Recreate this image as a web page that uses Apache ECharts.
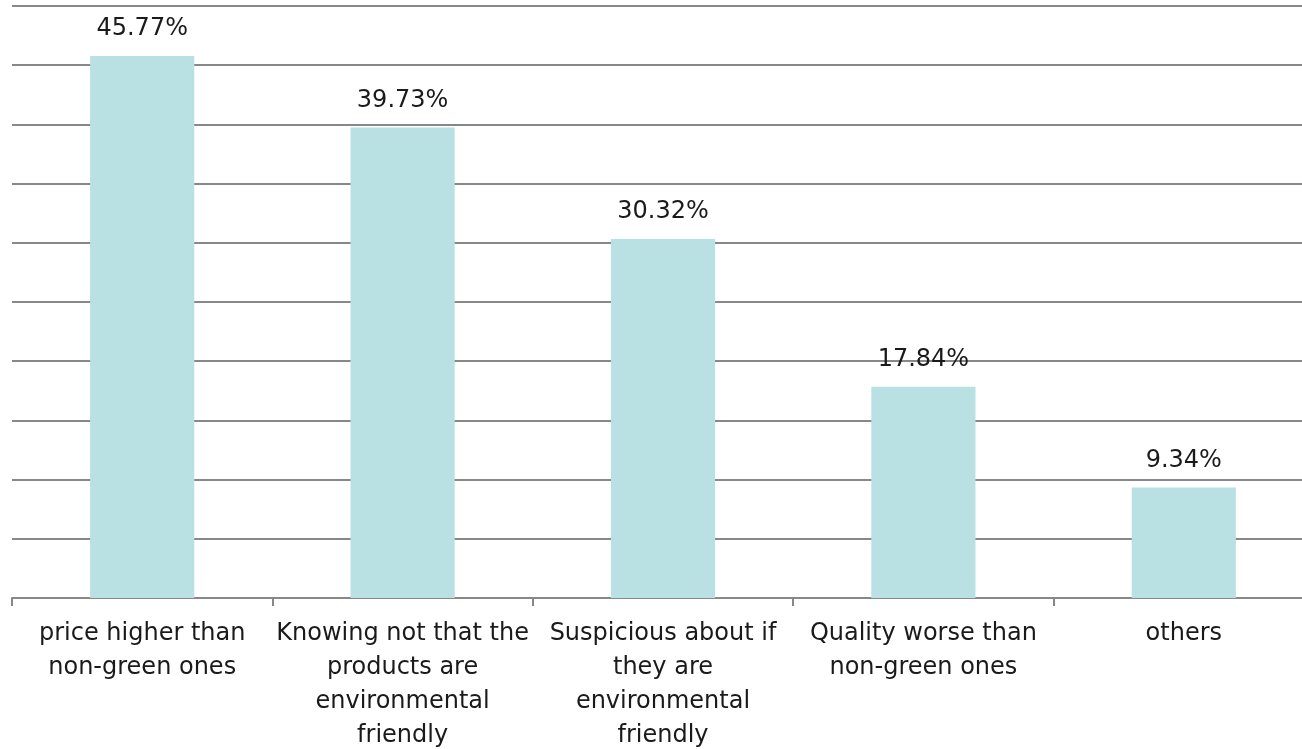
<!DOCTYPE html>
<html><head><meta charset="utf-8">
<script src="https://cdn.jsdelivr.net/npm/echarts@6/dist/echarts.min.js"></script>
<style>html,body{margin:0;padding:0;background:#fff;overflow:hidden;width:1302px;height:749px}#c{width:1314px;height:780px}</style>
</head><body><div id="c"></div>
<script>
const categories = [
  "price higher than\nnon-green ones",
  "Knowing not that the\nproducts are\nenvironmental\nfriendly",
  "Suspicious about if\nthey are\nenvironmental\nfriendly",
  "Quality worse than\nnon-green ones",
  "others"
];
const values = [45.77, 39.73, 30.32, 17.84, 9.34];

const chart = echarts.init(document.getElementById('c'));
const FONT = '"DejaVu Sans", sans-serif';
chart.setOption({
  animation: false,
  grid: { left: 12, right: 0, top: 6, bottom: 182, containLabel: false, outerBoundsMode: 'none' },
  xAxis: {
    type: 'category', data: categories,
    axisLine: { lineStyle: { color: '#888', width: 2 } },
    axisTick: { show: true, length: 8, lineStyle: { color: '#888', width: 2 } },
    axisLabel: { interval: 0, color: '#1a1a1a', fontSize: 24, fontFamily: FONT, lineHeight: 34, margin: 19 }
  },
  yAxis: {
    type: 'value', min: 0, max: 50, interval: 5,
    axisLabel: { show: false }, axisLine: { show: false }, axisTick: { show: false },
    splitLine: { lineStyle: { color: '#888', width: 2 } }
  },
  series: [{
    type: 'bar', data: values, barWidth: '40%',
    itemStyle: { color: '#b9e0e3' },
    label: { show: true, position: 'top', distance: 15, color: '#1a1a1a', fontSize: 24, fontFamily: FONT,
      formatter: p => p.value.toFixed(2) + '%' }
  }]
});
</script></body></html>
